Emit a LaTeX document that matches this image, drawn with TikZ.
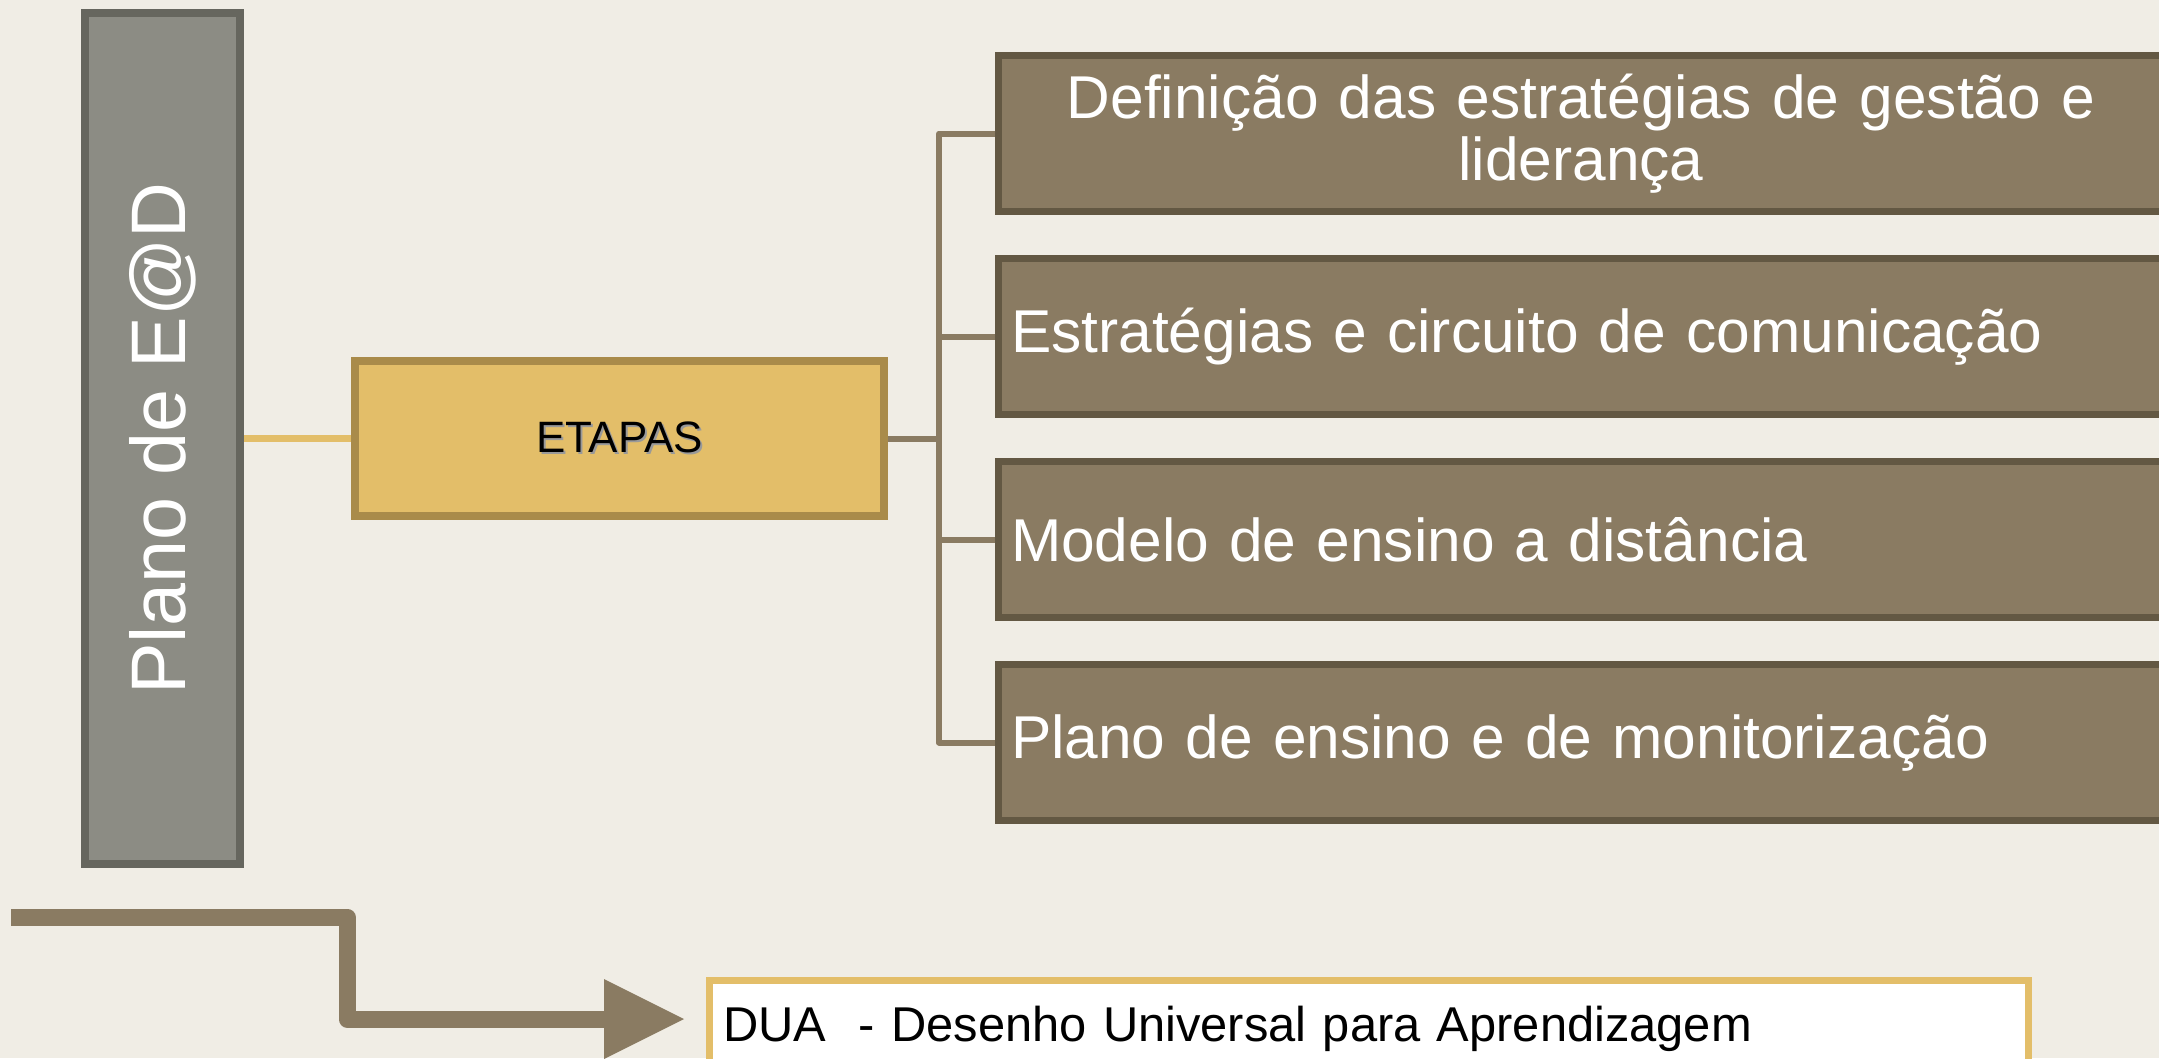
\documentclass[tikz,border=0pt]{standalone}
\usepackage{fontspec}
\setmainfont{Liberation Sans}
\usetikzlibrary{positioning,arrows.meta}

\definecolor{fundo}{HTML}{F0EDE5}
\definecolor{planofill}{HTML}{8C8C84}
\definecolor{planoline}{HTML}{66665E}
\definecolor{etapafill}{HTML}{E3BE69}
\definecolor{etapaline}{HTML}{A98B4A}
\definecolor{passofill}{HTML}{8A7B62}
\definecolor{passoline}{HTML}{635843}

\newcommand{\sombra}[1]{\makebox[0pt][l]{\hspace{0.02cm}\raisebox{-0.02cm}{\textcolor{black!40}{#1}}}#1}

\begin{document}
\begin{tikzpicture}[node distance=0.40cm,
plano/.style={rectangle, draw=planoline, fill=planofill, line width=0.08cm, inner sep=0pt, minimum width=8.51cm, minimum height=1.55cm, rotate=90, text=white, font=\fontsize{22}{26}\selectfont},
etapa/.style={rectangle, draw=etapaline, fill=etapafill, line width=0.08cm, inner sep=0pt, minimum width=5.29cm, minimum height=1.55cm, font=\fontsize{12.5}{14}\selectfont},
passo/.style={rectangle, draw=passoline, fill=passofill, line width=0.07cm, inner xsep=0.125cm, inner ysep=0pt, text width=11.4cm, minimum height=1.56cm, text=white, align=left, font=\fontsize{17.2}{17.6}\selectfont},
duabox/.style={rectangle, draw=etapafill, fill=white, line width=0.07cm, inner xsep=0.135cm, inner ysep=0pt, text width=12.92cm, minimum height=0.97cm, align=left, font=\fontsize{13.9}{16}\selectfont},
conn/.style={draw=passofill, line width=0.06cm, line join=round},
seta/.style={draw=passofill, line width=0.17cm, line join=round, -{Triangle[length=0.80cm,width=0.80cm,line width=0pt]}}]

\useasboundingbox (0,0) rectangle (21.59,-10.58);
\fill[fundo] (0,0) rectangle (21.59,-10.58); % fundo do slide

\node[plano](plano) at (1.625,-4.385){Plano de E@D};
\node[etapa](etapas) at (6.195,-4.385){\sombra{ETAPAS}};

% as quatro etapas, uma por baixo da outra
\node[passo, align=center](def) at (15.81,-1.335){Definição das estratégias de gestão e\\liderança};
\node[passo](est)[below=of def]{Estratégias e circuito de comunicação};
\node[passo](mod)[below=of est]{Modelo de ensino a distância};
\node[passo](pla)[below=of mod]{Plano de ensino e de monitorização};

\node[duabox](dua) at (13.69,-10.29){DUA~ - Desenho Universal para Aprendizagem};

% ligações
\draw[etapafill, line width=0.07cm] (plano.south) -- (etapas.west);
\coordinate (hub) at (9.39,-4.385);
\draw[conn] (etapas.east) -- (hub);
\draw[conn] (def.west) -| (hub) |- (pla.west);
\draw[conn] (hub |- est.west) -- (est.west);
\draw[conn] (hub |- mod.west) -- (mod.west);

% seta grande em baixo
\coordinate (inicio) at (0.11,-9.17);
\coordinate (ponta) at ([xshift=-0.22cm,yshift=0.10cm]dua.west);
\draw[seta] (inicio) -- ++(3.36,0) |- (ponta);

\end{tikzpicture}
\end{document}
